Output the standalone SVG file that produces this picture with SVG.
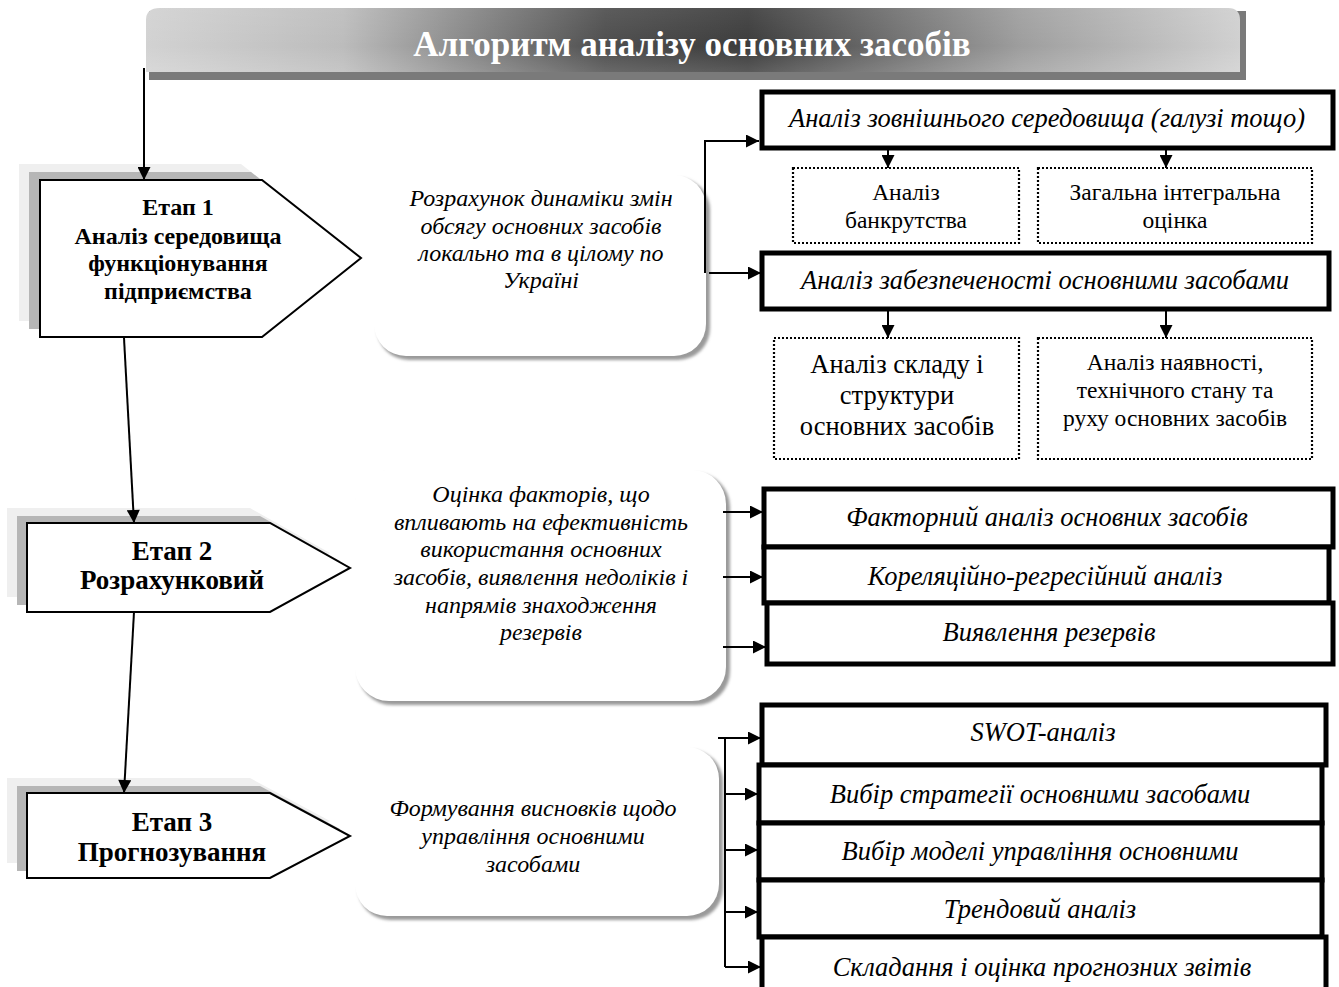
<svg xmlns="http://www.w3.org/2000/svg" width="1339" height="987" viewBox="0 0 1339 987">
<defs>
  <linearGradient id="bannerGrad" x1="0" y1="0" x2="1" y2="0">
    <stop offset="0" stop-color="#d2d2d2"/>
    <stop offset="0.18" stop-color="#bcbcbc"/>
    <stop offset="0.42" stop-color="#4e4e4e"/>
    <stop offset="0.55" stop-color="#3c3c3c"/>
    <stop offset="0.8" stop-color="#9e9e9e"/>
    <stop offset="1" stop-color="#d0d0d0"/>
  </linearGradient>
  <linearGradient id="gloss" x1="0" y1="0" x2="0" y2="1">
    <stop offset="0" stop-color="#ffffff" stop-opacity="0.08"/>
    <stop offset="0.6" stop-color="#ffffff" stop-opacity="0"/>
    <stop offset="1" stop-color="#ffffff" stop-opacity="0.15"/>
  </linearGradient>
  <filter id="soft" x="-5%" y="-5%" width="110%" height="110%">
    <feGaussianBlur stdDeviation="1.5"/>
  </filter>
  <marker id="ah" viewBox="0 0 10 10" refX="10" refY="5" markerUnits="userSpaceOnUse" markerWidth="14" markerHeight="13" orient="auto">
    <path d="M0,0 L10,5 L0,10 z" fill="#000"/>
  </marker>
</defs>
<style>
  .title { font-family: "Liberation Serif", serif; font-weight: bold; font-size: 35px; fill: #ffffff; }
  .stage { font-family: "Liberation Serif", serif; font-weight: bold; font-size: 24px; fill: #000; }
  .stageL { font-family: "Liberation Serif", serif; font-weight: bold; font-size: 27px; fill: #000; }
  .bub { font-family: "Liberation Serif", serif; font-style: italic; font-size: 24px; fill: #000; }
  .boxt { font-family: "Liberation Serif", serif; font-style: italic; font-size: 26.5px; fill: #000; }
  .dott { font-family: "Liberation Serif", serif; font-size: 23.5px; fill: #000; }
  .dott2 { font-family: "Liberation Serif", serif; font-size: 26.5px; fill: #000; }
  .thick { fill: #fff; stroke: #000; stroke-width: 5; }
  .dotted { fill: #fff; stroke: #000; stroke-width: 2.2; stroke-dasharray: 2 2; }
  .pent { fill: #fff; stroke: #000; stroke-width: 2; }
  .sh1 { fill: #efefef; }
  .sh2 { fill: #b6b6b6; }
  .bubsh { fill: #9a9a9a; }
  .bubbg { fill: #fff; }
  .conn { fill: none; stroke: #000; stroke-width: 2; }
</style>

<g id="title">
  <path d="M149,11 L1246,11 L1246,80 L149,80 Z" fill="#7a7a7a"/>
  <path d="M160,8 L1228,8 Q1240,8 1240,20 L1240,72 L146,72 L146,20 Q146,8 160,8 Z" fill="url(#bannerGrad)"/>
  <path d="M160,8 L1228,8 Q1240,8 1240,20 L1240,72 L146,72 L146,20 Q146,8 160,8 Z" fill="url(#gloss)"/>
  <text class="title" x="692" y="56" text-anchor="middle">Алгоритм аналізу основних засобів</text>
</g>

<g id="stage1">
  <polygon class="sh1" points="19,164 241,164 340,242 241,321 19,321"/>
  <polygon class="sh2" points="29,172 251,172 350,250 251,329 29,329"/>
  <polygon class="pent" points="40,180 262,180 361,258 262,337 40,337"/>
  <text class="stage" x="178" y="215" text-anchor="middle">Етап 1</text>
  <text class="stage" x="178" y="244" text-anchor="middle">Аналіз середовища</text>
  <text class="stage" x="178" y="271" text-anchor="middle">функціонування</text>
  <text class="stage" x="178" y="299" text-anchor="middle">підприємства</text>
</g>

<g id="stage2">
  <polygon class="sh1" points="7,508 250,508 330,553 250,597 7,597"/>
  <polygon class="sh2" points="17,516 260,516 340,561 260,605 17,605"/>
  <polygon class="pent" points="27,523 270,523 350,568 270,612 27,612"/>
  <text class="stageL" x="172" y="560" text-anchor="middle">Етап 2</text>
  <text class="stageL" x="172" y="589" text-anchor="middle">Розрахунковий</text>
</g>

<g id="stage3">
  <polygon class="sh1" points="7,778 250,778 330,821 250,863 7,863"/>
  <polygon class="sh2" points="17,786 260,786 340,829 260,871 17,871"/>
  <polygon class="pent" points="27,793 270,793 350,836 270,878 27,878"/>
  <text class="stageL" x="172" y="831" text-anchor="middle">Етап 3</text>
  <text class="stageL" x="172" y="861" text-anchor="middle">Прогнозування</text>
</g>

<g id="bubble1">
  <rect class="bubsh" x="377" y="178" width="333" height="182" rx="32" filter="url(#soft)"/>
  <rect class="bubbg" x="374" y="175" width="332" height="181" rx="32"/>
  <text class="bub" x="541" y="206" text-anchor="middle">Розрахунок динаміки змін</text>
  <text class="bub" x="541" y="234" text-anchor="middle">обсягу основних засобів</text>
  <text class="bub" x="541" y="261" text-anchor="middle">локально та в цілому по</text>
  <text class="bub" x="541" y="288" text-anchor="middle">Україні</text>
</g>

<g id="bubble2">
  <rect class="bubsh" x="358" y="473" width="372" height="232" rx="34" filter="url(#soft)"/>
  <rect class="bubbg" x="355" y="470" width="371" height="231" rx="34"/>
  <text class="bub" x="541" y="502" text-anchor="middle">Оцінка факторів, що</text>
  <text class="bub" x="541" y="530" text-anchor="middle">впливають на ефективність</text>
  <text class="bub" x="541" y="557" text-anchor="middle">використання основних</text>
  <text class="bub" x="541" y="585" text-anchor="middle">засобів, виявлення недоліків і</text>
  <text class="bub" x="541" y="613" text-anchor="middle">напрямів знаходження</text>
  <text class="bub" x="541" y="640" text-anchor="middle">резервів</text>
</g>

<g id="bubble3">
  <rect class="bubsh" x="358" y="750" width="365" height="170" rx="32" filter="url(#soft)"/>
  <rect class="bubbg" x="355" y="747" width="364" height="169" rx="32"/>
  <text class="bub" x="533" y="816" text-anchor="middle">Формування висновків щодо</text>
  <text class="bub" x="533" y="844" text-anchor="middle">управління основними</text>
  <text class="bub" x="533" y="872" text-anchor="middle">засобами</text>
</g>

<g id="ext">
  <rect class="thick" x="762" y="92" width="571" height="56"/>
  <text class="boxt" x="1047" y="127" text-anchor="middle">Аналіз зовнішнього середовища (галузі тощо)</text>
</g>
<g id="bankr">
  <rect class="dotted" x="793" y="168" width="226" height="75"/>
  <text class="dott" x="906" y="200" text-anchor="middle">Аналіз</text>
  <text class="dott" x="906" y="228" text-anchor="middle">банкрутства</text>
</g>
<g id="integr">
  <rect class="dotted" x="1038" y="168" width="274" height="75"/>
  <text class="dott" x="1175" y="200" text-anchor="middle">Загальна інтегральна</text>
  <text class="dott" x="1175" y="228" text-anchor="middle">оцінка</text>
</g>
<g id="zabezp">
  <rect class="thick" x="762" y="253" width="567" height="56"/>
  <text class="boxt" x="1045" y="289" text-anchor="middle">Аналіз забезпеченості основними засобами</text>
</g>
<g id="sklad">
  <rect class="dotted" x="774" y="338" width="245" height="121"/>
  <text class="dott2" x="897" y="373" text-anchor="middle">Аналіз складу і</text>
  <text class="dott2" x="897" y="404" text-anchor="middle">структури</text>
  <text class="dott2" x="897" y="435" text-anchor="middle">основних засобів</text>
</g>
<g id="nayavn">
  <rect class="dotted" x="1038" y="338" width="274" height="121"/>
  <text class="dott" x="1175" y="370" text-anchor="middle">Аналіз наявності,</text>
  <text class="dott" x="1175" y="398" text-anchor="middle">технічного стану та</text>
  <text class="dott" x="1175" y="426" text-anchor="middle">руху основних засобів</text>
</g>

<g id="factor">
  <rect class="thick" x="764" y="489" width="569" height="58"/>
  <text class="boxt" x="1047" y="526" text-anchor="middle">Факторний аналіз основних засобів</text>
</g>
<g id="corel">
  <rect class="thick" x="764" y="547" width="565" height="56"/>
  <text class="boxt" x="1045" y="585" text-anchor="middle">Кореляційно-регресійний аналіз</text>
</g>
<g id="reserv">
  <rect class="thick" x="767" y="603" width="566" height="61"/>
  <text class="boxt" x="1049" y="641" text-anchor="middle">Виявлення резервів</text>
</g>

<g id="swot">
  <rect class="thick" x="762" y="705" width="564" height="60"/>
  <text class="boxt" x="1043" y="741" text-anchor="middle">SWOT-аналіз</text>
</g>
<g id="strat">
  <rect class="thick" x="759" y="765" width="563" height="58"/>
  <text class="boxt" x="1040" y="803" text-anchor="middle">Вибір стратегії основними засобами</text>
</g>
<g id="model">
  <rect class="thick" x="759" y="823" width="563" height="57"/>
  <text class="boxt" x="1040" y="860" text-anchor="middle">Вибір  моделі управління основними</text>
</g>
<g id="trend">
  <rect class="thick" x="759" y="880" width="563" height="57"/>
  <text class="boxt" x="1040" y="918" text-anchor="middle">Трендовий аналіз</text>
</g>
<g id="progn">
  <rect class="thick" x="762" y="937" width="564" height="60"/>
  <text class="boxt" x="1042" y="976" text-anchor="middle">Складання і оцінка прогнозних звітів</text>
</g>

<g id="connectors">
  <line class="conn" x1="144" y1="68" x2="144" y2="180" marker-end="url(#ah)"/>
  <line class="conn" x1="124" y1="338" x2="134" y2="523" marker-end="url(#ah)"/>
  <line class="conn" x1="134" y1="612" x2="124" y2="793" marker-end="url(#ah)"/>

  <polyline class="conn" points="705,273 705,141 759,141" marker-end="url(#ah)"/>
  <line class="conn" x1="709" y1="273" x2="761" y2="273" marker-end="url(#ah)"/>

  <line class="conn" x1="888" y1="148" x2="888" y2="168" marker-end="url(#ah)"/>
  <line class="conn" x1="1166" y1="148" x2="1166" y2="168" marker-end="url(#ah)"/>
  <line class="conn" x1="888" y1="310" x2="888" y2="338" marker-end="url(#ah)"/>
  <line class="conn" x1="1166" y1="310" x2="1166" y2="338" marker-end="url(#ah)"/>

  <line class="conn" x1="723" y1="512" x2="763" y2="512" marker-end="url(#ah)"/>
  <line class="conn" x1="723" y1="577" x2="763" y2="577" marker-end="url(#ah)"/>
  <line class="conn" x1="723" y1="647" x2="766" y2="647" marker-end="url(#ah)"/>

  <line class="conn" x1="725" y1="738" x2="725" y2="967"/>
  <line class="conn" x1="718" y1="738" x2="761" y2="738" marker-end="url(#ah)"/>
  <line class="conn" x1="725" y1="794" x2="758" y2="794" marker-end="url(#ah)"/>
  <line class="conn" x1="725" y1="850" x2="758" y2="850" marker-end="url(#ah)"/>
  <line class="conn" x1="725" y1="912" x2="758" y2="912" marker-end="url(#ah)"/>
  <line class="conn" x1="725" y1="967" x2="761" y2="967" marker-end="url(#ah)"/>
</g>
</svg>
